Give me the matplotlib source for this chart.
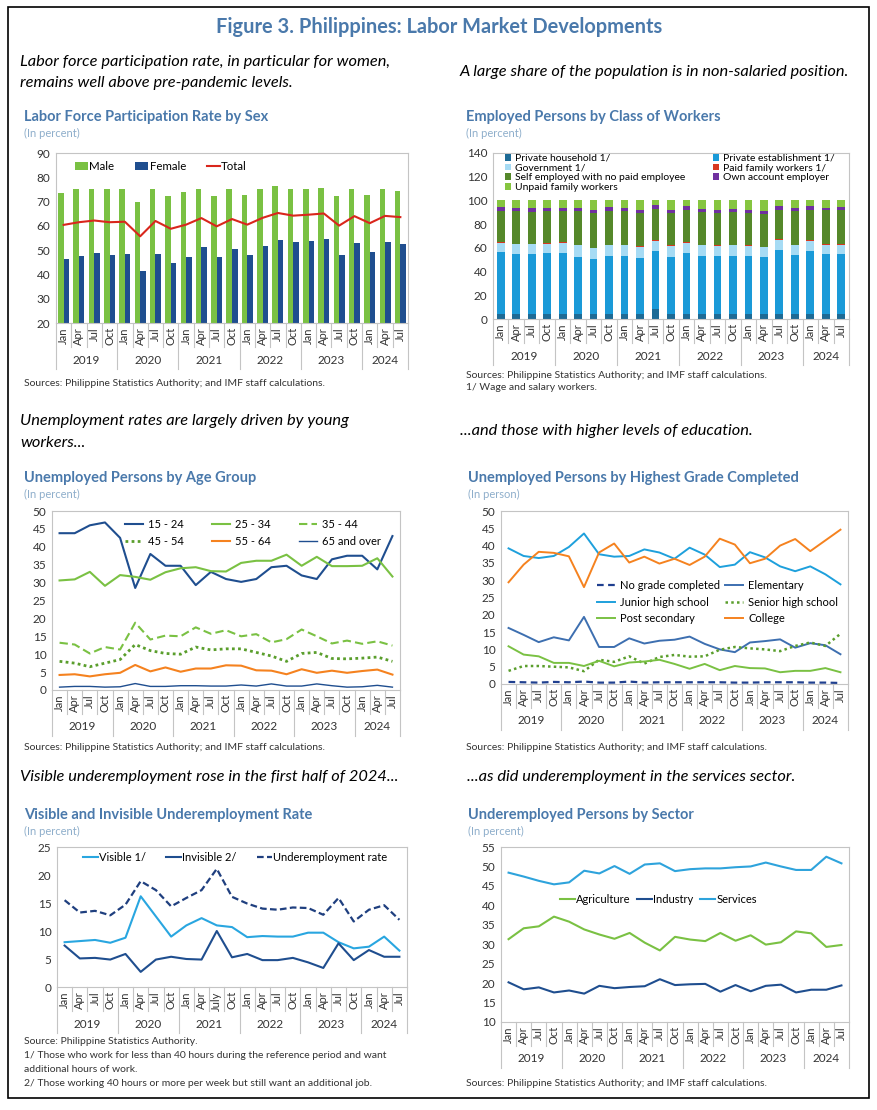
import matplotlib
matplotlib.use("Agg")
import matplotlib.pyplot as plt
import matplotlib.transforms as mtransforms
from matplotlib.patches import Rectangle

plt.rcParams['font.family'] = ['Lato', 'DejaVu Sans']

# ---- categories ----
months = ["Jan", "Apr", "Jul", "Oct"] * 5 + ["Jan", "Apr", "Jul"]
months_p5 = list(months)
months_p5[10] = "July"
years = ["2019", "2020", "2021", "2022", "2023", "2024"]

# ---- panel 1: labor force participation ----
male = [73.7, 75.3, 75.3, 75.0, 75.0, 69.8, 75.3, 72.3, 73.8, 75.0, 72.4, 75.0,
        72.9, 75.0, 76.4, 75.0, 75.2, 75.5, 72.1, 75.0, 72.8, 75.0, 74.4]
female = [46.5, 47.4, 48.7, 47.8, 48.4, 41.6, 48.5, 44.9, 47.0, 51.4, 47.1, 50.3,
          48.0, 51.6, 54.0, 53.2, 53.7, 54.7, 47.8, 52.8, 49.3, 53.2, 52.5]
total = [60.4, 61.5, 62.2, 61.5, 61.7, 55.7, 62.0, 58.8, 60.5, 63.2, 59.8, 62.8,
         60.5, 63.3, 65.3, 64.2, 64.6, 65.1, 60.1, 64.0, 61.1, 64.1, 63.6]

# ---- panel 2: class of workers (percent shares) ----
priv_household = [4.5, 4.5, 4.5, 4.0, 4.5, 4.5, 4.0, 4.0, 4.0, 4.0, 8.5, 4.0,
                  4.0, 4.0, 4.0, 4.0, 4.0, 4.5, 4.5, 4.0, 4.5, 4.5, 4.5]
priv_establishment = [52.0, 50.0, 50.0, 51.5, 51.0, 48.0, 47.0, 49.0, 49.0, 47.5, 48.5, 48.5,
                      51.5, 49.5, 49.0, 49.5, 49.0, 47.5, 53.5, 50.0, 53.0, 50.0, 50.0]
government = [8.0, 8.5, 8.5, 8.0, 9.0, 9.5, 8.5, 9.0, 9.0, 9.0, 9.0, 9.0,
              9.0, 8.5, 8.5, 8.5, 8.5, 8.5, 8.5, 8.0, 8.5, 8.0, 8.0]
paid_family = [0.8, 0.6, 0.6, 0.6, 0.6, 0.7, 0.6, 0.6, 0.6, 0.7, 0.6, 0.6,
               0.7, 0.6, 0.6, 0.7, 0.6, 0.6, 0.7, 0.6, 0.6, 0.6, 0.6]
self_employed = [26.2, 27.4, 26.9, 26.9, 26.4, 28.8, 29.4, 28.9, 28.4, 27.8, 26.4, 27.4,
                 26.8, 27.4, 26.9, 27.8, 27.4, 27.4, 24.8, 28.4, 25.4, 28.9, 28.9]
own_account = [3.0, 2.5, 3.0, 3.0, 2.5, 2.0, 2.5, 3.0, 2.5, 3.0, 3.0, 2.8,
               3.0, 2.5, 3.0, 2.0, 2.5, 2.5, 3.0, 2.5, 3.0, 2.0, 2.5]
unpaid_family = [5.5, 6.5, 6.5, 6.0, 6.0, 6.5, 8.0, 5.5, 6.5, 8.0, 4.0, 7.7,
                 5.0, 7.5, 8.0, 7.5, 8.0, 9.0, 5.0, 6.5, 5.0, 6.0, 5.5]

# ---- panel 3: unemployed persons by age group ----
age_15_24 = [43.8, 43.8, 46.0, 46.8, 42.5, 28.5, 38.0, 34.7, 34.7, 29.3, 33.0, 31.0,
             30.2, 31.0, 34.3, 34.7, 32.0, 31.0, 36.5, 37.5, 37.5, 33.7, 43.0]
age_25_34 = [30.6, 30.9, 33.0, 29.1, 32.1, 31.6, 30.8, 32.9, 34.0, 34.3, 33.2, 33.1,
             35.5, 36.1, 36.1, 37.8, 34.7, 37.2, 34.6, 34.6, 34.7, 36.8, 31.7]
age_35_44 = [13.2, 12.7, 10.2, 12.0, 11.3, 18.8, 14.1, 15.2, 15.0, 17.5, 15.7, 16.7,
             15.0, 15.6, 13.3, 14.2, 16.9, 15.0, 13.0, 13.8, 12.9, 13.6, 12.4]
age_45_54 = [8.0, 7.5, 6.5, 7.5, 8.5, 12.7, 11.0, 10.2, 10.0, 12.0, 11.2, 11.5,
             11.5, 10.5, 9.5, 8.0, 10.2, 10.5, 8.8, 8.7, 8.9, 9.2, 8.0]
age_55_64 = [4.2, 4.4, 3.8, 4.4, 4.8, 7.0, 5.2, 6.3, 5.1, 6.0, 6.0, 6.9,
             6.8, 5.5, 5.4, 4.4, 5.8, 4.8, 5.4, 4.8, 5.3, 5.7, 4.3]
age_65_over = [0.8, 1.0, 1.0, 0.8, 0.9, 1.8, 1.0, 1.0, 1.2, 1.2, 1.1, 1.1,
               1.4, 1.1, 1.7, 1.1, 1.1, 1.7, 1.2, 0.8, 0.9, 1.3, 0.8]

# ---- panel 4: unemployed persons by highest grade completed ----
no_grade = [0.6, 0.5, 0.4, 0.6, 0.5, 0.7, 0.4, 0.4, 0.7, 0.4, 0.5, 0.5,
            0.5, 0.5, 0.5, 0.4, 0.4, 0.5, 0.5, 0.5, 0.4, 0.4, 0.3]
elementary = [16.2, 14.2, 12.1, 13.5, 12.6, 19.4, 10.7, 10.7, 13.2, 11.7, 12.5, 12.8,
              13.7, 11.6, 10.0, 9.2, 12.0, 12.4, 12.9, 10.5, 11.8, 11.2, 8.6]
junior_high = [39.2, 37.0, 36.4, 37.0, 39.6, 43.5, 37.5, 36.8, 37.0, 38.9, 38.0, 36.2,
               39.4, 37.4, 33.8, 34.5, 38.1, 36.6, 34.0, 32.6, 34.0, 31.7, 28.8]
senior_high = [3.8, 5.2, 5.2, 5.0, 4.8, 3.7, 7.0, 6.4, 8.0, 5.9, 7.8, 8.4,
               7.9, 8.0, 9.9, 10.7, 10.3, 10.0, 9.5, 11.0, 12.0, 11.0, 14.5]
post_secondary = [10.9, 8.5, 8.0, 6.1, 6.1, 5.2, 6.7, 5.1, 6.2, 6.5, 7.0, 5.8,
                  4.4, 5.8, 4.0, 5.2, 4.6, 4.5, 3.4, 3.8, 3.8, 4.6, 3.4]
college = [29.4, 34.5, 38.2, 37.9, 36.9, 28.0, 38.0, 40.6, 35.1, 36.8, 34.8, 36.2,
           34.4, 36.8, 42.0, 40.3, 34.9, 36.2, 40.0, 41.9, 38.4, 41.5, 44.6]

# ---- panel 5: underemployment rates ----
visible = [8.0, 8.2, 8.4, 7.9, 8.8, 16.2, 12.6, 9.0, 11.0, 12.3, 11.0, 10.7,
           8.9, 9.1, 9.0, 9.0, 9.7, 9.7, 8.0, 6.9, 7.2, 9.0, 6.5]
invisible = [7.4, 5.1, 5.2, 4.9, 5.9, 2.7, 4.9, 5.4, 5.0, 4.9, 10.0, 5.3,
             5.9, 4.8, 4.8, 5.2, 4.4, 3.4, 7.8, 4.8, 6.6, 5.4, 5.4]
underemp = [15.5, 13.3, 13.6, 12.8, 14.7, 18.9, 17.3, 14.4, 15.9, 17.3, 21.1, 16.1,
            14.9, 14.0, 13.8, 14.2, 14.1, 12.9, 15.9, 11.7, 13.8, 14.6, 12.0]

# ---- panel 6: underemployed persons by sector ----
agriculture = [31.3, 34.1, 34.6, 37.1, 35.8, 33.8, 32.5, 31.4, 32.9, 30.4, 28.4, 31.9,
               31.2, 30.8, 32.9, 30.9, 32.3, 29.9, 30.5, 33.3, 32.8, 29.3, 29.8]
industry = [20.2, 18.4, 18.9, 17.6, 18.1, 17.3, 19.3, 18.7, 19.0, 19.2, 21.0, 19.5,
            19.7, 19.8, 17.8, 19.5, 17.9, 19.3, 19.6, 17.6, 18.3, 18.3, 19.4]
services = [48.4, 47.4, 46.3, 45.4, 45.9, 48.9, 48.2, 50.1, 48.1, 50.5, 50.8, 48.8,
            49.3, 49.5, 49.5, 49.8, 50.0, 51.0, 50.0, 49.1, 49.1, 52.5, 50.8]

# colours
GREEN = "#7ac143"
DKBLUE = "#1f4e8f"
BLUE = "#1ea0dc"
MIDBLUE = "#3d6fb0"
ORANGE = "#f5821f"
RED = "#d9261c"
TITLE_C = "#4a79ab"
SUB_C = "#8eaecb"
GRID_C = "#c4c4c4"
TXT = "#333333"

W, H = 878, 1110
fig = plt.figure(figsize=(W / 100, H / 100), dpi=100)


def ftext(x, y, s, **kw):
    fig.text(x / W, 1 - y / H, s, va="center", **kw)


def px_axes(l, t, r, b):
    return fig.add_axes([l / W, 1 - b / H, (r - l) / W, (b - t) / H])


def style_axes(ax, box, labels, ymin, ymax, step):
    l, t, r, b = box
    x = list(range(len(labels)))
    ax.set_xlim(-0.5, len(labels) - 0.5)
    ax.set_ylim(ymin, ymax)
    ax.set_yticks(list(range(ymin, ymax + 1, step)))
    ax.set_xticks(x)
    ax.set_xticklabels(labels, rotation=90, fontsize=8, color=TXT)
    ax.tick_params(axis="x", length=0, pad=3)
    ax.tick_params(axis="y", length=0, pad=4, labelsize=8.5, labelcolor=TXT)
    for sp in ax.spines.values():
        sp.set_color(GRID_C)
        sp.set_linewidth(0.8)
    h = b - t
    trans = mtransforms.blended_transform_factory(ax.transData, ax.transAxes)
    year_edges = [-0.5, 3.5, 7.5, 11.5, 15.5, 19.5, 22.5]
    for i in range(len(labels) + 1):
        xe = i - 0.5
        depth = 46 if xe in year_edges else 24
        ax.plot([xe, xe], [0, -depth / h], transform=trans, color=GRID_C,
                lw=0.8, clip_on=False)
    centers = [1.5, 5.5, 9.5, 13.5, 17.5, 21.0]
    for c, yr in zip(centers, years):
        ax.text(c, -37 / h, yr, transform=trans, ha="center", va="center",
                fontsize=8.5, color=TXT)
    return x


def legend_at(ax, box, handles, labels, x_px, y_px, fs=8, **kw):
    l, t, r, b = box
    fx = (x_px - l) / (r - l)
    fy = (b - y_px) / (b - t)
    return ax.legend(handles, labels, loc="upper left", bbox_to_anchor=(fx, fy),
                     frameon=False, fontsize=fs, borderpad=0, borderaxespad=0, **kw)


def titles(x, y, title, sub):
    ftext(x, y, title, fontsize=10.5, fontweight="bold", color=TITLE_C)
    ftext(x, y + 16, sub, fontsize=8, color=SUB_C)


# ---- outer frame and headings ----
fig.patches.append(Rectangle((8 / W, 1 - 1098 / H), 861 / W, 1091 / H,
                             transform=fig.transFigure, fill=False,
                             edgecolor="black", lw=1.2))
fig.text(0.5, 1 - 27 / H, "Figure 3. Philippines: Labor Market Developments",
         ha="center", va="center", fontsize=14.4, fontweight="bold", color=TITLE_C)

ital = dict(fontsize=11.8, style="italic", color="black")
ftext(20, 62, "Labor force participation rate, in particular for women,", **ital)
ftext(20, 83, "remains well above pre-pandemic levels.", **ital)
ftext(460, 72, "A large share of the population is in non-salaried position.", **ital)
ftext(20, 421, "Unemployment rates are largely driven by young", **ital)
ftext(20, 443, "workers...", **ital)
ftext(460, 431, "...and those with higher levels of education.", **ital)
ftext(20, 777, "Visible underemployment rose in the first half of 2024...", **ital)
ftext(467, 777, "...as did underemployment in the services sector.", **ital)

src = dict(fontsize=7.5, color=TXT)
SOURCES = "Sources: Philippine Statistics Authority; and IMF staff calculations."

# ---- panel 1 ----
titles(24, 117, "Labor Force Participation Rate by Sex", "(In percent)")
box1 = (56, 153, 408, 323)
ax1 = px_axes(*box1)
x1 = style_axes(ax1, box1, months, 20, 90, 10)
b_m = ax1.bar([i - 0.18 for i in x1], [m - 20 for m in male], bottom=20, width=0.36,
              color=GREEN)
b_f = ax1.bar([i + 0.18 for i in x1], [f - 20 for f in female], bottom=20, width=0.36,
              color=DKBLUE)
l_t = ax1.plot(x1, total, color=RED, lw=1.5)[0]
legend_at(ax1, box1, [b_m, b_f, l_t], ["Male", "Female", "Total"], 75, 161, fs=8.3,
          ncol=3, handlelength=1.1, handleheight=0.6, handletextpad=0.15,
          columnspacing=1.8)
ftext(24, 383, SOURCES, **src)

# ---- panel 2 ----
titles(466, 117, "Employed Persons by Class of Workers", "(In percent)")
box2 = (493, 153, 849, 319)
ax2 = px_axes(*box2)
x2 = style_axes(ax2, box2, months, 0, 140, 20)
stack = [
    (priv_household, "#1d6a95", "Private household 1/"),
    (priv_establishment, "#1a9ad8", "Private establishment 1/"),
    (government, "#a6dbf4", "Government 1/"),
    (paid_family, "#d8381f", "Paid family workers 1/"),
    (self_employed, "#55882a", "Self employed with no paid employee"),
    (own_account, "#7030a0", "Own account employer"),
    (unpaid_family, "#86c540", "Unpaid family workers"),
]
bottom = [0.0] * len(x2)
handles2 = {}
for vals, col, lab in stack:
    bars = ax2.bar(x2, vals, bottom=bottom, width=0.5, color=col)
    handles2[lab] = bars
    bottom = [b + v for b, v in zip(bottom, vals)]
order2 = ["Private household 1/", "Government 1/",
          "Self employed with no paid employee", "Unpaid family workers",
          "Private establishment 1/", "Paid family workers 1/",
          "Own account employer"]
legend_at(ax2, box2, [handles2[k] for k in order2], order2, 505, 154, fs=7.5,
          ncol=2, handlelength=0.6, handleheight=0.6, handletextpad=0.4,
          labelspacing=0.06, columnspacing=2.6)
ftext(466, 375, SOURCES, **src)
ftext(466, 387, "1/ Wage and salary workers.", **src)

# ---- panel 3 ----
titles(24, 478, "Unemployed Persons by Age Group", "(In percent)")
box3 = (52, 511, 400, 690)
ax3 = px_axes(*box3)
x3 = style_axes(ax3, box3, months, 0, 50, 5)
l_15 = ax3.plot(x3, age_15_24, color=DKBLUE, lw=1.5)[0]
l_25 = ax3.plot(x3, age_25_34, color=GREEN, lw=1.5)[0]
l_35 = ax3.plot(x3, age_35_44, color=GREEN, lw=1.5, ls=(0, (4, 2)))[0]
l_45 = ax3.plot(x3, age_45_54, color="#5a9e2c", lw=2, ls=(0, (1, 1.2)))[0]
l_55 = ax3.plot(x3, age_55_64, color=ORANGE, lw=1.5)[0]
l_65 = ax3.plot(x3, age_65_over, color=DKBLUE, lw=1.0)[0]
legend_at(ax3, box3, [l_15, l_45, l_25, l_55, l_35, l_65],
          ["15 - 24", "45 - 54", "25 - 34", "55 - 64", "35 - 44", "65 and over"],
          125, 519, ncol=3, handlelength=1.6, handletextpad=0.5,
          labelspacing=0.5, columnspacing=2.5)
ftext(24, 747, SOURCES, **src)

# ---- panel 4 ----
titles(468, 478, "Unemployed Persons by Highest Grade Completed", "(In person)")
box4 = (501, 511, 848, 684)
ax4 = px_axes(*box4)
x4 = style_axes(ax4, box4, months, 0, 50, 5)
g0 = ax4.plot(x4, no_grade, color="#1f3f8f", lw=1.6, ls=(0, (3, 2)))[0]
g1 = ax4.plot(x4, elementary, color=MIDBLUE, lw=1.4)[0]
g2 = ax4.plot(x4, junior_high, color=BLUE, lw=1.4)[0]
g3 = ax4.plot(x4, senior_high, color="#5a9e2c", lw=1.8, ls=(0, (1, 1.3)))[0]
g4 = ax4.plot(x4, post_secondary, color=GREEN, lw=1.4)[0]
g5 = ax4.plot(x4, college, color=ORANGE, lw=1.4)[0]
legend_at(ax4, box4, [g0, g2, g4, g1, g3, g5],
          ["No grade completed", "Junior high school", "Post secondary",
           "Elementary", "Senior high school", "College"],
          597, 580, ncol=2, handlelength=1.6, handletextpad=0.45,
          labelspacing=0.5, columnspacing=0.5)
ftext(466, 747, SOURCES, **src)

# ---- panel 5 ----
titles(24, 815, "Visible and Invisible Underemployment Rate", "(In percent)")
box5 = (57, 847, 407, 987)
ax5 = px_axes(*box5)
x5 = style_axes(ax5, box5, months_p5, 0, 25, 5)
v1 = ax5.plot(x5, visible, color="#29a6e0", lw=1.5)[0]
v2 = ax5.plot(x5, invisible, color=DKBLUE, lw=1.5)[0]
v3 = ax5.plot(x5, underemp, color="#1f3f7f", lw=1.6, ls=(0, (3, 1.5)))[0]
legend_at(ax5, box5, [v1, v2, v3], ["Visible 1/", "Invisible 2/", "Underemployment rate"],
          83, 852, ncol=3, handlelength=1.35, handletextpad=0.1, columnspacing=1.8)
ftext(24, 1042, "Source: Philippine Statistics Authority.", **src)
ftext(24, 1056, "1/ Those who work for less than 40 hours during the reference period and want", **src)
ftext(24, 1069, "additional hours of work.", **src)
ftext(24, 1083, "2/ Those working 40 hours or more per week but still want an additional job.", **src)

# ---- panel 6 ----
titles(468, 815, "Underemployed Persons by Sector", "(In percent)")
box6 = (501, 847, 849, 1022)
ax6 = px_axes(*box6)
x6 = style_axes(ax6, box6, months, 10, 55, 5)
s1 = ax6.plot(x6, agriculture, color=GREEN, lw=1.5)[0]
s2 = ax6.plot(x6, industry, color=DKBLUE, lw=1.5)[0]
s3 = ax6.plot(x6, services, color="#2ea3dc", lw=1.5)[0]
legend_at(ax6, box6, [s1, s2, s3], ["Agriculture", "Industry", "Services"],
          560, 894, ncol=3, handlelength=1.35, handletextpad=0.1, columnspacing=0.6)
ftext(466, 1084, SOURCES, **src)

fig.savefig("out.png", dpi=100)
